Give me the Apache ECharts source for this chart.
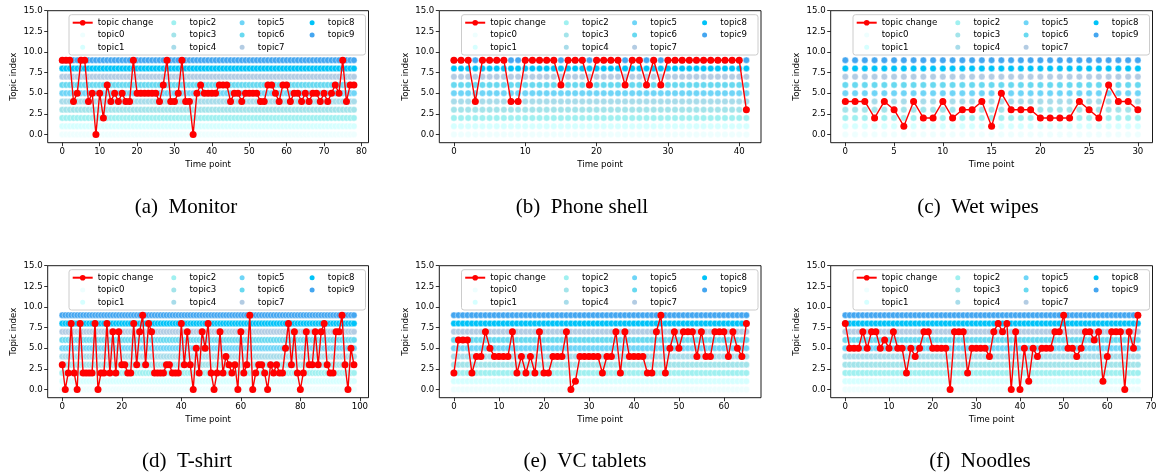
<!DOCTYPE html>
<html><head><meta charset="utf-8">
<script src="https://cdn.jsdelivr.net/npm/echarts@6/dist/echarts.min.js"></script>
<style>html,body{margin:0;padding:0;background:#fff}#c{width:1161px;height:474px}</style>
</head><body><div id="c"></div>
<script>
const topics = ['topic0','topic1','topic2','topic3','topic4','topic5','topic6','topic7','topic8','topic9'];
const topicColors = ['#eefefe','#d6ffff','#a0f0f0','#a3e4ea','#a8dcea','#6fd5f7','#68d9f0','#b3cce3','#00c3f8','#44a6f0'];
const changeName = 'topic change';
const yTicks = [0, 2.5, 5, 7.5, 10, 12.5, 15];

const monitor = [9,9,9,4,5,9,9,4,5,0, 5,2,6,4,5,4,5,4,4,9, 5,5,5,5,5,5,4,6,9,4, 4,5,9,4,4,0,5,6,5,5,
                 5,5,6,6,6,4,5,5,4,5, 5,5,5,4,4,6,6,5,4,6, 6,4,5,5,4,5,4,5,5,4, 5,4,5,6,5,9,4,6,6];
const phoneShell = [9,9,9,4,9,9,9,9,4,4, 9,9,9,9,9,6,9,9,9,6, 9,9,9,9,6,9,9,6,9,6, 9,9,9,9,9,9,9,9,9,9, 9,3];
const wetWipes = [4,4,4,2,4,3,1,4,2,2, 4,2,3,3,4,1,5,3,3,3, 2,2,2,2,4,3,2,6,4,4, 3];
const tShirt = [3,0,2,8,2,0,8,2,2,2, 2,8,0,2,2,8,2,7,2,7, 3,3,2,2,8,3,7,9,3,8, 7,2,2,2,2,3,3,2,2,2,
                8,3,7,3,0,5,2,7,5,8, 2,0,2,7,2,4,3,2,3,0, 7,2,3,9,0,2,3,3,2,0, 3,2,3,2,2,5,8,3,7,2,
                0,2,7,3,3,7,3,7,8,3, 2,2,7,7,9,3,0,5,3];
const vcTablets = [2,6,6,6,2,4,4,7,5,4, 4,4,4,7,2,4,2,4,2,7, 2,2,4,4,4,7,0,1,4,4, 4,4,4,2,4,4,7,2,7,4,
                   4,4,4,2,2,7,9,2,5,7, 5,7,7,7,4,7,4,4,7,7, 7,4,7,5,4,8];
const noodles = [8,5,5,5,7,5,7,7,5,6, 5,7,5,5,2,5,4,5,7,7, 5,5,5,5,0,7,7,7,2,5, 5,5,5,4,7,8,7,8,0,7,
                 0,5,1,5,4,5,5,5,7,7, 9,5,5,4,5,7,7,6,7,1, 4,7,7,7,0,7,5,9];

const xTicksMonitor = [0,10,20,30,40,50,60,70,80];
const xTicksPhone = [0,10,20,30,40];
const xTicksWipes = [0,5,10,15,20,25,30];
const xTicksTShirt = [0,20,40,60,80,100];
const xTicksVC = [0,10,20,30,40,50,60];
const xTicksNoodles = [0,10,20,30,40,50,60,70];

const captions = ['(a)  Monitor','(b)  Phone shell','(c)  Wet wipes','(d)  T-shirt','(e)  VC tablets','(f)  Noodles'];

const panels = [
  {data: monitor,    ticks: xTicksMonitor, left: 47.7,  right: 368.5,  top: 10.7,  capX: 186, capY: 207},
  {data: phoneShell, ticks: xTicksPhone,   left: 439.3, right: 761,    top: 10.7,  capX: 582, capY: 207},
  {data: wetWipes,   ticks: xTicksWipes,   left: 830.7, right: 1152.5, top: 10.7,  capX: 978, capY: 207},
  {data: tShirt,     ticks: xTicksTShirt,  left: 47.7,  right: 368.5,  top: 265.7, capX: 187, capY: 461},
  {data: vcTablets,  ticks: xTicksVC,      left: 439.3, right: 761,    top: 265.7, capX: 585, capY: 461},
  {data: noodles,    ticks: xTicksNoodles, left: 830.7, right: 1152.5, top: 265.7, capX: 980, capY: 461}
];
const plotH = 132;
const FONT = '"DejaVu Sans", sans-serif';
const FS = 8.6;

const grid = [], xAxis = [], yAxis = [], series = [], legend = [], graphic = [];
panels.forEach((p, pi) => {
  grid.push({left: p.left, top: p.top, width: p.right - p.left, height: plotH,
    show: true, borderColor: '#000', borderWidth: 0.9, backgroundColor: 'transparent',
    containLabel: false, outerBoundsMode: 'none'});
  const n = p.data.length - 1;
  xAxis.push({type: 'value', gridIndex: pi, min: -0.05 * n, max: 1.05 * n, position: 'bottom',
    name: 'Time point', nameLocation: 'middle', nameGap: 17.5,
    nameTextStyle: {fontFamily: FONT, fontSize: FS, color: '#000', verticalAlign: 'top'},
    axisLine: {show: false, onZero: false}, splitLine: {show: false},
    axisTick: {show: true, length: 3.5, lineStyle: {color: '#000', width: 0.8}, customValues: p.ticks},
    axisLabel: {show: true, fontFamily: FONT, fontSize: FS, color: '#000', margin: 5, customValues: p.ticks}
  });
  yAxis.push({type: 'value', gridIndex: pi, min: -1, max: 15, position: 'left',
    name: 'Topic index', nameLocation: 'middle', nameGap: 29.5, nameRotate: 90,
    nameTextStyle: {fontFamily: FONT, fontSize: FS, color: '#000'},
    axisLine: {show: false, onZero: false}, splitLine: {show: false},
    axisTick: {show: true, length: 3.5, lineStyle: {color: '#000', width: 0.8}, customValues: yTicks},
    axisLabel: {show: true, fontFamily: FONT, fontSize: FS, color: '#000', margin: 5, customValues: yTicks,
      formatter: v => Number(v).toFixed(1)}
  });
  topics.forEach((t, k) => {
    series.push({type: 'scatter', name: t, xAxisIndex: pi, yAxisIndex: pi,
      data: p.data.map((_, i) => [i, k]), symbol: 'circle', symbolSize: 6.4,
      itemStyle: {color: topicColors[k], borderColor: '#fff', borderWidth: 0.4, opacity: 1},
      emphasis: {disabled: true}, z: 2, silent: true});
  });
  series.push({type: 'line', name: changeName, xAxisIndex: pi, yAxisIndex: pi,
    data: p.data.map((v, i) => [i, v]), symbol: 'circle', symbolSize: 7, showSymbol: true,
    lineStyle: {color: '#ff0000', width: 1.4}, itemStyle: {color: '#ff0000'},
    emphasis: {disabled: true}, z: 5, silent: true});

  const L = p.right - 299.5;
  const rowTop = p.top + 5.85;
  const cols = [
    {names: [changeName, topics[0], topics[1]], x: L + 2.7, w: 20},
    {names: [topics[2], topics[3], topics[4]], x: L + 100.3, w: 21.4},
    {names: [topics[5], topics[6], topics[7]], x: L + 168.6, w: 21.4},
    {names: [topics[8], topics[9]], x: L + 238.6, w: 21.4}
  ];
  cols.forEach(c => {
    legend.push({orient: 'vertical', left: c.x, top: rowTop, padding: 0, itemGap: 0,
      itemWidth: c.w, itemHeight: 7, selectedMode: false, data: c.names,
      textStyle: {fontFamily: FONT, fontSize: FS, color: '#000', lineHeight: 12.3}, z: 6});
  });
  graphic.push({type: 'rect', z: 4, silent: true,
    shape: {x: L, y: p.top + 4, width: 296.5, height: 40.3, r: 2.5},
    style: {fill: 'rgba(255,255,255,0.8)', stroke: '#cccccc', lineWidth: 1}});
  graphic.push({type: 'text', z: 4, silent: true, x: p.capX, y: p.capY,
    style: {text: captions[pi], font: '21px "Liberation Serif", serif', fill: '#000',
      textAlign: 'center', textVerticalAlign: 'middle', verticalAlign: 'middle'}});
});

const chart = echarts.init(document.getElementById('c'), null, {renderer: 'canvas'});
chart.setOption({animation: false, backgroundColor: '#fff', grid, xAxis, yAxis, series, legend, graphic});
</script>
</body></html>
